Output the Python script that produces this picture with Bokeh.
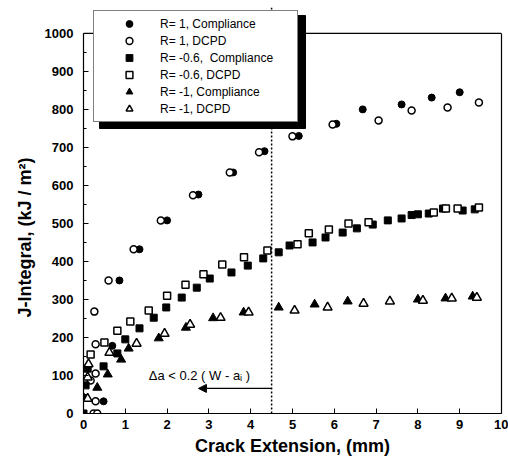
from bokeh.plotting import figure
from bokeh.models import (Range1d, SingleIntervalTicker, FixedTicker, Legend, LegendItem, Span, Arrow,
                          NormalHead, Label, BoxAnnotation, LinearAxis, Title)
from bokeh.embed import file_html
from bokeh.resources import INLINE

# ---- data (crack extension mm, J-integral kJ/m^2) ----
r1_comp_x = [0.48, 0.69, 0.86, 1.34, 2.0, 2.75, 3.58, 4.33, 5.15, 6.05, 6.68, 7.61, 8.33, 9.0]
r1_comp_j = [32, 178, 350, 432, 508, 576, 634, 690, 730, 762, 800, 813, 831, 845]

r1_dcpd_x = [0.24, 0.33, 0.29, 0.17, 0.29, 0.29, 0.26, 0.6, 1.2, 1.85, 2.62, 3.5, 4.2, 5.0, 5.96, 7.06, 7.85, 8.71, 9.46]
r1_dcpd_j = [0, 0, 32, 87, 105, 182, 268, 350, 432, 508, 574, 634, 687, 729, 760, 771, 797, 805, 818]

r06_comp_x = [0.0, 0.05, 0.1, 0.48, 0.81, 1.0, 1.34, 1.68, 1.98, 2.35, 2.71, 3.02, 3.54, 3.93, 4.3, 4.67,
              4.93, 5.48, 5.79, 6.2, 6.54, 6.92, 7.28, 7.61, 7.85, 8.0, 8.26, 8.6, 9.07, 9.36]
r06_comp_j = [0, 74, 118, 124, 158, 195, 224, 252, 279, 305, 331, 355, 371, 389, 408, 424,
              442, 450, 463, 476, 487, 497, 508, 513, 522, 524, 526, 539, 534, 537]

r06_dcpd_x = [0.17, 0.5, 0.81, 1.12, 1.56, 2.0, 2.44, 2.87, 3.32, 3.84, 4.4, 5.12, 5.39, 5.87, 6.34,
              6.82, 8.38, 8.67, 8.95, 9.46]
r06_dcpd_j = [155, 187, 218, 242, 271, 310, 339, 366, 392, 411, 429, 445, 474, 484, 500,
              503, 529, 539, 539, 542]

rm1_comp_x = [0.0, 0.33, 0.58, 0.9, 1.08, 1.8, 2.45, 3.1, 3.83, 4.67, 5.53, 6.32, 8.0, 8.66, 9.31]
rm1_comp_j = [42, 68, 103, 142, 171, 198, 226, 251, 266, 279, 287, 295, 300, 303, 308]

rm1_dcpd_x = [0.1, 0.1, 0.12, 0.62, 1.27, 1.94, 2.55, 3.28, 3.95, 5.05, 5.84, 6.7, 7.33, 8.12, 8.81, 9.41]
rm1_dcpd_j = [39, 95, 130, 160, 184, 210, 234, 252, 266, 271, 279, 289, 295, 297, 303, 305]

legend_labels = ["R= 1, Compliance", "R= 1, DCPD", "R= -0.6,  Compliance", "R= -0.6, DCPD",
                 "R= -1, Compliance", "R= -1, DCPD"]

X_MAX = 10
Y_MAX = 1000
Y_VIEW_TOP = 1068      # room above the axes box for the legend
limit_x = 4.5          # 0.2 (W - a_i) limit
arrow_y = 66
arrow_tip_x = 2.75
note_x, note_y = 1.56, 100
note_text = "\u0394a < 0.2 ( W - a\u1d62 )"

FONT = "Liberation Sans"

p = figure(width=508, height=461, output_backend="svg", toolbar_location=None,
           x_range=Range1d(0, X_MAX), y_range=Range1d(0, Y_VIEW_TOP),
           min_border_left=83, min_border_right=7, min_border_top=7, min_border_bottom=48)
p.background_fill_color = "white"
p.border_fill_color = "white"
p.outline_line_color = None
p.grid.visible = False

p.xaxis.ticker = SingleIntervalTicker(interval=1, num_minor_ticks=0)
p.yaxis.ticker = SingleIntervalTicker(interval=100, num_minor_ticks=2)
p.yaxis.bounds = (0, Y_MAX)
for ax in (p.xaxis[0], p.yaxis[0]):
    ax.axis_line_color = "black"
    ax.axis_line_width = 1.2
    ax.major_tick_in = 5
    ax.major_tick_out = 0
    ax.minor_tick_in = 3
    ax.minor_tick_out = 0
    ax.major_tick_line_color = "black"
    ax.minor_tick_line_color = "black"
    ax.major_label_text_font = FONT
    ax.major_label_text_font_style = "bold"
    ax.major_label_text_font_size = "13px"
    ax.major_label_text_color = "black"
    ax.axis_label_text_font = FONT
    ax.axis_label_text_font_style = "bold"
    ax.axis_label_text_font_size = "18px"
    ax.axis_label_text_color = "black"
p.xaxis.axis_label = "Crack Extension, (mm)"
p.xaxis.major_label_standoff = 6
p.xaxis.axis_label_standoff = 4
p.yaxis.major_label_standoff = 10

# y title as a side title, started at the same height as in the original
p.add_layout(Title(text="J-Integral, (kJ / m\u00b2)", align="left", offset=96, standoff=14,
                   text_font=FONT, text_font_style="bold", text_font_size="18px",
                   text_color="black"), "left")

# right border of the axes box, as a bare axis line
right_ax = LinearAxis(bounds=(0, Y_MAX), ticker=FixedTicker(ticks=[]), major_tick_in=0,
                      major_tick_out=0, minor_tick_in=0, minor_tick_out=0,
                      axis_line_color="black", axis_line_width=1.2)
p.add_layout(right_ax, "right")
# top border of the axes box
p.add_layout(Span(location=Y_MAX, dimension="width", line_color="black", line_width=1.2))

# dotted limit line
p.add_layout(Span(location=limit_x, dimension="height", line_color="black",
                  line_dash="2 2", line_width=1.5))

ms = 7
g1 = p.scatter(r1_comp_x, r1_comp_j, marker="circle", size=ms, fill_color="black", line_color="black")
g2 = p.scatter(r1_dcpd_x, r1_dcpd_j, marker="circle", size=ms, fill_color="white", line_color="black", line_width=1.5)
g3 = p.scatter(r06_comp_x, r06_comp_j, marker="square", size=ms, fill_color="black", line_color="black")
g4 = p.scatter(r06_dcpd_x, r06_dcpd_j, marker="square", size=ms, fill_color="white", line_color="black", line_width=1.5)
g5 = p.scatter(rm1_comp_x, rm1_comp_j, marker="triangle", size=9, fill_color="black", line_color="black")
g6 = p.scatter(rm1_dcpd_x, rm1_dcpd_j, marker="triangle", size=9, fill_color="white", line_color="black", line_width=1.5)

p.add_layout(Arrow(end=NormalHead(size=8, fill_color="black", line_color="black"),
                   x_start=limit_x, y_start=arrow_y, x_end=arrow_tip_x, y_end=arrow_y,
                   line_color="black", line_width=1.2))
p.add_layout(Label(x=note_x, y=note_y, text=note_text, text_font=FONT, text_font_size="13px",
                   text_baseline="middle", text_color="black"))

# legend shadow
LEG_X, LEG_Y, LEG_W, LEG_H = 10, 291, 206, 113
SH = 6
p.add_layout(BoxAnnotation(left=LEG_X + SH, right=LEG_X + LEG_W + SH, bottom=LEG_Y - SH, top=LEG_Y + LEG_H - SH,
                           left_units="screen", right_units="screen", top_units="screen", bottom_units="screen",
                           fill_color="black", fill_alpha=1, line_color="black", line_alpha=1))

legend = Legend(items=[LegendItem(label=l, renderers=[g]) for l, g in
                       zip(legend_labels, [g1, g2, g3, g4, g5, g6])],
                location=(LEG_X, LEG_Y), padding=4, spacing=0, margin=0,
                glyph_width=62, glyph_height=17, label_height=17, label_standoff=0,
                label_width=133,
                label_text_font=FONT, label_text_font_size="12px", label_text_color="black",
                border_line_color="black", border_line_width=1.5,
                background_fill_color="white", background_fill_alpha=1.0)
p.add_layout(legend, "center")

open("out.html", "w").write(file_html(p, INLINE))
